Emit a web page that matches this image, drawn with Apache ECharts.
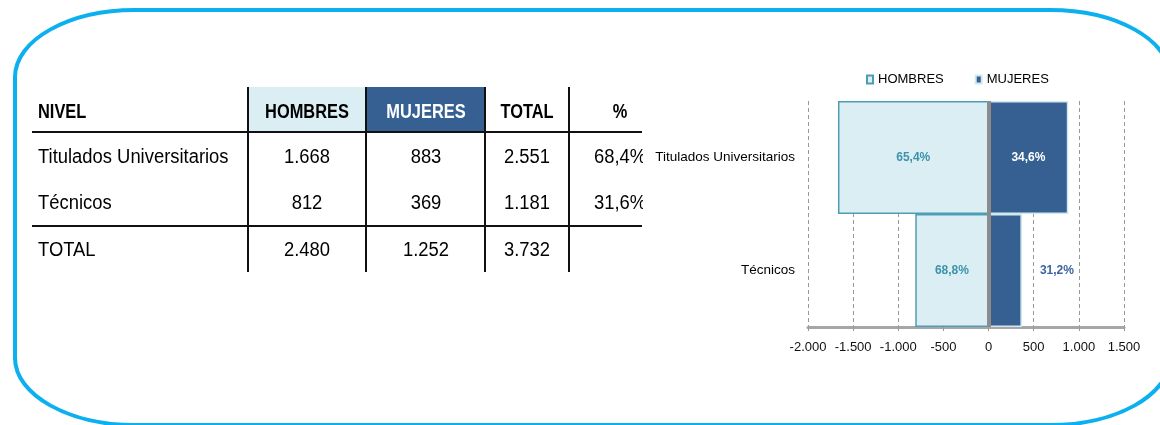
<!DOCTYPE html>
<html>
<head>
<meta charset="utf-8">
<script src="https://cdn.jsdelivr.net/npm/echarts@6/dist/echarts.min.js"></script>
<style>
  html, body { margin: 0; padding: 0; background: #fff; }
  #chart { width: 1160px; height: 425px; }
</style>
</head>
<body>
<div id="chart"></div>
<script>
// datos
const categorias = ['Titulados Universitarios', 'Técnicos']
const hombres = [1668, 812]
const mujeres = [883, 369]
const cabeceras = ['NIVEL', 'HOMBRES', 'MUJERES', 'TOTAL', '%']

const FONT = '"Liberation Sans", Arial, sans-serif'

function miles(n) {
  const s = String(Math.abs(n)).replace(/\B(?=(\d{3})+(?!\d))/g, '.')
  return (n < 0 ? '-' : '') + s
}
function pct(v) {
  return (v * 100).toFixed(1).replace('.', ',') + '%'
}

const totales = categorias.map((c, i) => hombres[i] + mujeres[i])
const totH = hombres.reduce((a, b) => a + b, 0)
const totM = mujeres.reduce((a, b) => a + b, 0)
const totT = totH + totM

const colX = [32, 248, 366, 485, 569, 642]
const colC = [38, 307, 426, 527, 620]
const rowY = [112, 157, 203, 250]
const graphic = []

// marco redondeado (esquinas elípticas)
const marco = { stroke: '#0cb0ee', lineWidth: 4, fill: null, lineCap: 'round' }
const L = 15, R = 1170, T = 10, B = 425, rx = 120, ry = 67, k = 0.5523
;[
  [L + rx, T, R - rx, T], [R, T + ry, R, B - ry],
  [L + rx, B, R - rx, B], [L, T + ry, L, B - ry]
].forEach(s => graphic.push({ type: 'line', z: 1, shape: { x1: s[0], y1: s[1], x2: s[2], y2: s[3] }, style: marco }))
;[
  [L, T + ry, L + rx, T, L, T + ry - ry * k, L + rx - rx * k, T],
  [R - rx, T, R, T + ry, R - rx + rx * k, T, R, T + ry - ry * k],
  [R, B - ry, R - rx, B, R, B - ry + ry * k, R - rx + rx * k, B],
  [L + rx, B, L, B - ry, L + rx - rx * k, B, L, B - ry + ry * k]
].forEach(c => graphic.push({
  type: 'bezierCurve', z: 1,
  shape: { x1: c[0], y1: c[1], x2: c[2], y2: c[3], cpx1: c[4], cpy1: c[5], cpx2: c[6], cpy2: c[7] },
  style: marco
}))

// tabla
graphic.push({ type: 'rect', z: 1, shape: { x: 249, y: 87, width: 117, height: 44 }, style: { fill: '#daeef3' } })
graphic.push({ type: 'rect', z: 1, shape: { x: 367, y: 87, width: 118, height: 44 }, style: { fill: '#366092' } })

colX.slice(1, 5).forEach(x => {
  graphic.push({ type: 'line', z: 2, shape: { x1: x, y1: 87, x2: x, y2: 272 }, style: { stroke: '#111', lineWidth: 2 } })
})
;[132, 226].forEach(y => {
  graphic.push({ type: 'line', z: 2, shape: { x1: 32, y1: y, x2: 642, y2: y }, style: { stroke: '#111', lineWidth: 2 } })
})

// cabeceras en negrita estrecha (escala horizontal)
cabeceras.forEach((t, i) => {
  graphic.push({
    type: 'text', z: 3, x: colC[i], y: rowY[0], scaleX: 0.82,
    style: {
      text: t, font: 'bold 20px ' + FONT,
      fill: i === 2 ? '#fff' : '#000',
      align: i === 0 ? 'left' : 'center', verticalAlign: 'middle'
    }
  })
})

const filas = categorias.map((c, i) => [c, miles(hombres[i]), miles(mujeres[i]), miles(totales[i]), pct(totales[i] / totT)])
filas.push(['TOTAL', miles(totH), miles(totM), miles(totT), ''])
filas.forEach((fila, r) => {
  fila.forEach((t, i) => {
    graphic.push({
      type: 'text', z: 3, x: colC[i], y: rowY[r + 1], scaleX: 0.92,
      style: {
        text: t, font: '20px ' + FONT, fill: '#000',
        align: i === 0 ? 'left' : 'center', verticalAlign: 'middle'
      }
    })
  })
})
// recorte de la columna %
graphic.push({ type: 'rect', z: 10, shape: { x: 643, y: 138, width: 9, height: 80 }, style: { fill: '#fff' } })

const chart = echarts.init(document.getElementById('chart'))
chart.setOption({
  animation: false,
  backgroundColor: '#fff',
  textStyle: { fontFamily: FONT },
  graphic: graphic,
  legend: {
    top: 73,
    left: 866,
    padding: 0,
    icon: 'rect',
    itemWidth: 6,
    itemHeight: 8,
    itemGap: 31,
    textStyle: { fontSize: 13, color: '#000', fontFamily: FONT },
    data: ['HOMBRES', 'MUJERES']
  },
  grid: {
    left: 808,
    right: 36,
    top: 101,
    bottom: 98,
    outerBoundsMode: 'none'
  },
  xAxis: {
    type: 'value',
    min: -2000,
    max: 1500,
    interval: 500,
    axisLine: { show: true, lineStyle: { color: '#a6a6a6', width: 3 } },
    axisTick: { show: true, length: 4, lineStyle: { color: '#999' } },
    axisLabel: { margin: 14, fontSize: 13, color: '#111', formatter: v => miles(v) },
    splitLine: { show: true, lineStyle: { color: '#999', type: [4, 3], width: 1 } }
  },
  yAxis: {
    type: 'category',
    inverse: true,
    data: categorias,
    axisLine: { show: false },
    axisTick: { show: false },
    axisLabel: { margin: 13, fontSize: 13.5, color: '#000' },
    splitLine: { show: false }
  },
  series: [
    {
      name: 'HOMBRES',
      type: 'bar',
      barGap: '-100%',
      barCategoryGap: '0%',
      data: hombres.map(v => -v),
      itemStyle: { color: '#daeef3', borderColor: '#4f9db3', borderWidth: 1.5 },
      label: {
        show: true,
        position: 'inside',
        fontSize: 12,
        fontWeight: 'bold',
        color: '#3d93ab',
        formatter: p => pct(hombres[p.dataIndex] / totales[p.dataIndex])
      }
    },
    {
      name: 'MUJERES',
      type: 'bar',
      barGap: '-100%',
      barCategoryGap: '0%',
      data: mujeres.map((v, i) => i === 0 ? v : {
        value: v,
        label: { position: 'right', distance: 18, color: '#3b64a0' }
      }),
      itemStyle: { color: '#366092', borderColor: '#cfe9f0', borderWidth: 1.5 },
      label: {
        show: true,
        position: 'inside',
        fontSize: 12,
        fontWeight: 'bold',
        color: '#fff',
        formatter: p => pct(mujeres[p.dataIndex] / totales[p.dataIndex])
      },
      markLine: {
        silent: true,
        symbol: 'none',
        label: { show: false },
        lineStyle: { color: '#8c8c8c', width: 4, type: 'solid' },
        data: [{ xAxis: 0 }]
      }
    }
  ]
})
</script>
</body>
</html>
